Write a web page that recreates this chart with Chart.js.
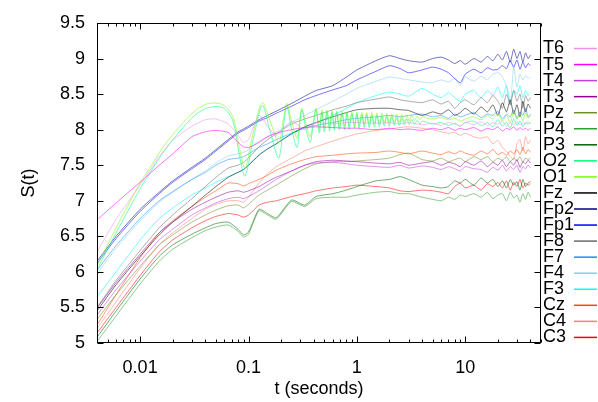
<!DOCTYPE html>
<html>
<head>
<meta charset="utf-8">
<script src="https://cdn.jsdelivr.net/npm/chart.js@4.4.1/dist/chart.umd.min.js"></script>
<style>
  html, body { margin: 0; padding: 0; background: #fff; }
  canvas { display: block; }
</style>
</head>
<body>
<canvas id="entropy-chart" width="598" height="402"></canvas>
<script>
const FONT = "'Liberation Sans', Arial, Helvetica, sans-serif";

// time grid (seconds) shared by most channels
const tBase = [0.004, 0.006, 0.01, 0.015, 0.02, 0.03, 0.04, 0.05, 0.065, 0.08, 0.09, 0.1, 0.125, 0.15, 0.18, 0.25, 0.33, 0.42, 0.6, 0.8,
    1, 1.5, 2, 2.5, 3, 4, 5, 6, 7, 8, 9, 10, 12, 14, 16, 18, 20, 22, 24, 26, 28, 30, 32, 34, 36, 38, 40];

// O1/O2 ring between 0.1 s and 4 s, so they get a finer grid
const tOsc = [0.004, 0.006, 0.008, 0.01, 0.013, 0.016, 0.023, 0.033, 0.043, 0.058, 0.072, 0.082, 0.093, 0.11, 0.134, 0.16, 0.19, 0.21, 0.226, 0.25,
    0.28, 0.295, 0.31, 0.34, 0.37, 0.395, 0.42,
    0.45, 0.475, 0.5, 0.53, 0.56, 0.59, 0.62, 0.65, 0.69, 0.73, 0.77, 0.81, 0.85, 0.9, 0.95, 1.0, 1.05, 1.11, 1.17, 1.23,
    1.3, 1.37, 1.45, 1.53, 1.61, 1.7, 1.79, 1.89, 1.99, 2.1, 2.21, 2.33, 2.46, 2.6, 2.74, 2.89, 3.05, 3.2, 3.4, 3.6, 3.8, 4.0,
    4.5, 5, 6, 7, 8, 9, 10, 12, 14, 16, 18, 20, 22, 24, 26, 28, 30, 32, 34, 36, 38, 40];

const T6  = [6.28, 6.74, 7.22, 7.62, 7.85, 8.05, 8.14, 8.15, 8.08, 7.92, 7.82, 7.86, 8.2, 8.05, 7.92, 8.12, 8.0, 8.1, 8.08, 8.1, 8.1, 8.09, 8.1, 8.08, 8.1, 8.07, 8.09, 8.06, 8.1, 8.08, 8.05, 8.1, 8.07, 8.11, 8.06, 8.1, 8.08, 8.12, 8.05, 8.1, 8.07, 8.11, 8.06, 8.1, 8.08, 8.12, 8.08];
const T5  = [6.73, 6.97, 7.26, 7.5, 7.66, 7.9, 7.97, 7.99, 7.96, 7.82, 7.76, 7.75, 7.82, 7.9, 7.95, 8.0, 8.03, 8.04, 8.03, 8.02, 8.02, 8.0, 8.02, 8.0, 8.01, 7.99, 8.02, 8.0, 8.03, 7.99, 8.02, 8.0, 8.03, 7.98, 8.02, 8.0, 8.04, 7.98, 8.02, 8.0, 8.04, 7.99, 8.03, 8.0, 8.02, 7.99, 8.02];
const T4  = [5.39, 5.75, 6.15, 6.45, 6.6, 6.8, 6.9, 6.97, 7.03, 7.05, 7.03, 7.06, 7.14, 7.22, 7.3, 7.42, 7.5, 7.53, 7.54, 7.52, 7.5, 7.48, 7.47, 7.5, 7.46, 7.49, 7.47, 7.44, 7.48, 7.45, 7.42, 7.48, 7.45, 7.44, 7.4, 7.47, 7.43, 7.5, 7.42, 7.48, 7.44, 7.5, 7.4, 7.48, 7.45, 7.5, 7.46];
const T3  = [5.49, 5.85, 6.25, 6.55, 6.7, 6.88, 6.98, 7.05, 7.12, 7.14, 7.12, 7.14, 7.2, 7.27, 7.33, 7.42, 7.5, 7.55, 7.57, 7.56, 7.55, 7.53, 7.52, 7.54, 7.5, 7.53, 7.55, 7.5, 7.54, 7.52, 7.48, 7.55, 7.5, 7.56, 7.48, 7.54, 7.5, 7.57, 7.48, 7.55, 7.5, 7.58, 7.47, 7.55, 7.52, 7.57, 7.53];
const Pz  = [5.33, 5.68, 6.08, 6.38, 6.52, 6.7, 6.8, 6.87, 6.93, 6.94, 6.9, 6.95, 7.08, 7.15, 7.22, 7.35, 7.45, 7.52, 7.55, 7.55, 7.56, 7.58, 7.6, 7.65, 7.67, 7.58, 7.56, 7.6, 7.55, 7.58, 7.6, 7.55, 7.62, 7.58, 7.62, 7.55, 7.6, 7.57, 7.62, 7.55, 7.6, 7.56, 7.62, 7.54, 7.6, 7.58, 7.6];
const P4  = [5.02, 5.38, 5.83, 6.15, 6.32, 6.48, 6.58, 6.63, 6.66, 6.57, 6.49, 6.53, 6.86, 6.8, 6.74, 6.99, 6.92, 7.03, 7.05, 7.05, 7.08, 7.12, 7.13, 7.1, 7.1, 7.05, 7.02, 7.0, 7.05, 7.02, 7.08, 7.06, 7.1, 7.05, 7.12, 7.03, 7.08, 7.1, 7.0, 7.12, 7.04, 7.08, 6.98, 7.1, 7.02, 7.12, 7.05];
const P3  = [5.08, 5.45, 5.9, 6.22, 6.38, 6.53, 6.62, 6.68, 6.7, 6.6, 6.52, 6.56, 6.88, 6.82, 6.76, 7.01, 6.94, 7.06, 7.1, 7.15, 7.2, 7.28, 7.3, 7.34, 7.3, 7.22, 7.2, 7.18, 7.2, 7.28, 7.25, 7.3, 7.22, 7.32, 7.25, 7.3, 7.2, 7.28, 7.18, 7.3, 7.22, 7.27, 7.15, 7.3, 7.2, 7.25, 7.27];
const O2  = [6.03, 6.55, 6.9, 7.17, 7.45, 7.66, 7.97, 8.22, 8.31, 8.31, 8.12, 7.65, 7.35, 7.85, 8.34, 7.95, 7.6, 8.05, 8.33, 8.0,
    7.75, 8.02, 8.28, 8.0, 7.82, 8.05, 8.28,
    7.95, 8.25, 7.97, 8.25, 7.98, 8.24, 7.99, 8.24, 8.0, 8.23, 8.0, 8.23, 8.01, 8.22, 8.02, 8.22, 8.02, 8.21, 8.03, 8.21,
    8.03, 8.2, 8.04, 8.2, 8.04, 8.19, 8.05, 8.19, 8.05, 8.18, 8.06, 8.17, 8.06, 8.16, 8.07, 8.15, 8.07, 8.14, 8.08, 8.13, 8.08, 8.12,
    8.1, 8.08, 8.1, 8.06, 8.09, 8.05, 8.1, 8.12, 8.06, 8.1, 8.04, 8.14, 8.05, 8.1, 8.02, 8.15, 8.06, 8.12, 8.04, 8.1, 8.08, 8.1];
const O1  = [6.08, 6.62, 6.98, 7.25, 7.52, 7.74, 8.04, 8.28, 8.37, 8.35, 8.18, 7.76, 7.46, 7.95, 8.38, 8.1, 7.82, 8.15, 8.37, 8.12,
    7.88, 8.1, 8.3, 8.08, 7.9, 8.1, 8.3,
    8.0, 8.28, 8.02, 8.27, 8.03, 8.27, 8.04, 8.26, 8.04, 8.26, 8.05, 8.25, 8.05, 8.25, 8.06, 8.25, 8.06, 8.24, 8.07, 8.24,
    8.07, 8.24, 8.08, 8.23, 8.08, 8.23, 8.09, 8.23, 8.09, 8.22, 8.1, 8.22, 8.1, 8.21, 8.11, 8.2, 8.12, 8.2, 8.13, 8.19, 8.14, 8.18,
    8.16, 8.15, 8.17, 8.14, 8.16, 8.12, 8.15, 8.18, 8.14, 8.2, 8.15, 8.22, 8.12, 8.2, 8.1, 8.25, 8.15, 8.22, 8.12, 8.24, 8.16, 8.2];
const Fz  = [5.45, 5.82, 6.22, 6.52, 6.7, 6.92, 7.08, 7.2, 7.33, 7.4, 7.44, 7.5, 7.64, 7.73, 7.8, 7.94, 8.04, 8.1, 8.18, 8.24, 8.28, 8.3, 8.3, 8.28, 8.27, 8.2, 8.25, 8.22, 8.28, 8.2, 8.24, 8.3, 8.22, 8.32, 8.25, 8.35, 8.2, 8.38, 8.25, 8.42, 8.22, 8.35, 8.18, 8.4, 8.25, 8.36, 8.3];
const Fp2 = [6.15, 6.5, 6.88, 7.12, 7.28, 7.47, 7.6, 7.72, 7.86, 7.97, 8.01, 8.05, 8.14, 8.2, 8.26, 8.37, 8.47, 8.55, 8.62, 8.74, 8.84, 8.97, 9.04, 9.0, 8.97, 8.95, 9.0, 9.02, 8.98, 8.93, 8.97, 8.92, 9.0, 8.95, 9.03, 8.97, 9.06, 8.98, 9.1, 8.95, 9.13, 9.0, 9.1, 8.95, 9.08, 9.0, 9.05];
const Fp1 = [6.12, 6.47, 6.85, 7.1, 7.26, 7.45, 7.58, 7.7, 7.84, 7.95, 7.99, 8.03, 8.12, 8.17, 8.23, 8.33, 8.42, 8.48, 8.56, 8.62, 8.7, 8.82, 8.9, 8.86, 8.8, 8.84, 8.88, 8.85, 8.8, 8.72, 8.66, 8.78, 8.85, 8.8, 8.87, 8.84, 8.85, 8.9, 8.86, 8.97, 8.88, 8.98, 8.85, 8.95, 8.87, 8.93, 8.9];
const F8  = [5.5, 5.88, 6.3, 6.62, 6.8, 7.03, 7.2, 7.33, 7.46, 7.5, 7.54, 7.6, 7.76, 7.86, 7.94, 8.08, 8.15, 8.2, 8.28, 8.33, 8.38, 8.43, 8.46, 8.42, 8.4, 8.38, 8.42, 8.36, 8.4, 8.3, 8.38, 8.42, 8.35, 8.45, 8.38, 8.48, 8.4, 8.3, 8.5, 8.35, 8.55, 8.4, 8.5, 8.3, 8.48, 8.4, 8.45];
const F7  = [6.02, 6.37, 6.75, 7.0, 7.13, 7.3, 7.4, 7.5, 7.58, 7.6, 7.62, 7.66, 7.75, 7.8, 7.86, 7.95, 8.02, 8.06, 8.1, 8.14, 8.16, 8.18, 8.2, 8.18, 8.2, 8.22, 8.18, 8.2, 8.16, 8.22, 8.18, 8.2, 8.24, 8.17, 8.22, 8.2, 8.26, 8.15, 8.22, 8.18, 8.28, 8.16, 8.25, 8.2, 8.3, 8.18, 8.22];
const F4  = [5.97, 6.33, 6.72, 6.98, 7.12, 7.3, 7.42, 7.53, 7.63, 7.66, 7.68, 7.72, 7.84, 7.9, 7.97, 8.1, 8.2, 8.28, 8.4, 8.5, 8.58, 8.68, 8.74, 8.72, 8.7, 8.67, 8.66, 8.7, 8.67, 8.72, 8.62, 8.74, 8.68, 8.75, 8.7, 8.78, 8.8, 8.75, 8.6, 8.35, 8.88, 8.6, 8.78, 8.7, 8.76, 8.72, 8.74];
const F3  = [5.65, 6.0, 6.45, 6.75, 6.9, 7.08, 7.18, 7.26, 7.34, 7.4, 7.44, 7.5, 7.65, 7.73, 7.8, 7.95, 8.03, 8.1, 8.2, 8.3, 8.38, 8.48, 8.53, 8.5, 8.47, 8.58, 8.5, 8.45, 8.52, 8.45, 8.4, 8.5, 8.55, 8.45, 8.55, 8.48, 8.6, 8.45, 8.62, 8.4, 8.55, 8.5, 8.62, 8.45, 8.55, 8.48, 8.52];
const Cz  = [5.25, 5.68, 6.2, 6.55, 6.72, 6.92, 7.05, 7.14, 7.25, 7.24, 7.21, 7.24, 7.3, 7.36, 7.43, 7.52, 7.58, 7.62, 7.64, 7.66, 7.67, 7.68, 7.7, 7.68, 7.66, 7.7, 7.67, 7.65, 7.69, 7.66, 7.7, 7.67, 7.64, 7.7, 7.66, 7.72, 7.65, 7.68, 7.64, 7.7, 7.66, 7.72, 7.65, 7.75, 7.66, 7.72, 7.68];
const C4  = [5.2, 5.58, 6.05, 6.38, 6.55, 6.75, 6.88, 6.95, 7.0, 7.0, 6.98, 7.05, 7.25, 7.38, 7.48, 7.6, 7.7, 7.76, 7.84, 7.9, 7.94, 7.99, 8.01, 8.03, 8.04, 8.02, 8.0, 7.97, 7.95, 7.96, 7.92, 7.95, 7.9, 7.88, 7.9, 7.8, 7.85, 7.75, 7.7, 7.62, 7.58, 7.8, 7.86, 7.7, 7.9, 7.8, 7.86];
const C3  = [5.14, 5.5, 5.95, 6.28, 6.45, 6.62, 6.72, 6.78, 6.82, 6.8, 6.77, 6.8, 6.94, 6.98, 7.0, 7.06, 7.1, 7.14, 7.18, 7.2, 7.22, 7.2, 7.18, 7.14, 7.13, 7.15, 7.14, 7.12, 7.1, 7.2, 7.25, 7.18, 7.22, 7.15, 7.24, 7.2, 7.26, 7.18, 7.28, 7.15, 7.26, 7.2, 7.3, 7.18, 7.25, 7.22, 7.24];

// key order, top to bottom
const channels = ['T6', 'T5', 'T4', 'T3', 'Pz', 'P4', 'P3', 'O2', 'O1', 'Fz', 'Fp2', 'Fp1', 'F8', 'F7', 'F4', 'F3', 'Cz', 'C4', 'C3'];
const series   = [T6, T5, T4, T3, Pz, P4, P3, O2, O1, Fz, Fp2, Fp1, F8, F7, F4, F3, Cz, C4, C3];
const colors   = ['#ee90ee', '#ff00ff', '#c040e0', '#990099', '#6b8e23', '#2ca02c', '#006400', '#00ff7f', '#7cfc00', '#000000',
                  '#00008b', '#0000ff', '#696969', '#1e90ff', '#87ceeb', '#00ffff', '#ff4500', '#fa8072', '#ff0000'];

const xMajor = [0.01, 0.1, 1, 10];
const xLabels = ['0.01', '0.1', '1', '10'];
const xMinor = [];
[0.001, 0.01, 0.1, 1, 10].forEach(d => {
    for (let m = 2; m <= 9; m++) {
        const v = m * d;
        if (v >= 0.004 && v <= 50) xMinor.push(v);
    }
});

function fade(hex, a) {
    const n = parseInt(hex.slice(1), 16);
    return `rgba(${n >> 16},${(n >> 8) & 255},${n & 255},${a})`;
}

/* frame with inward ticks on all four sides, plus the key on the right */
const frameAndKey = {
    id: 'frameAndKey',
    afterDraw(chart) {
        const { ctx, chartArea: a, scales: { x, y } } = chart;
        const L = Math.round(a.left) + 0.5, R = Math.round(a.right) - 0.5;
        const T = Math.round(a.top) + 0.5, B = Math.round(a.bottom) - 0.5;
        ctx.save();
        ctx.strokeStyle = '#000';
        ctx.lineWidth = 1;
        ctx.strokeRect(L, T, R - L, B - T);
        ctx.beginPath();
        y.ticks.forEach(t => {
            const py = Math.round(y.getPixelForValue(t.value)) + 0.5;
            ctx.moveTo(L, py); ctx.lineTo(L + 6, py);
            ctx.moveTo(R, py); ctx.lineTo(R - 6, py);
        });
        const tick = (v, len) => {
            const px = Math.round(x.getPixelForValue(v)) + 0.5;
            ctx.moveTo(px, B); ctx.lineTo(px, B - len);
            ctx.moveTo(px, T); ctx.lineTo(px, T + len);
        };
        xMajor.forEach(v => tick(v, 6));
        xMinor.forEach(v => tick(v, 3));
        ctx.stroke();

        ctx.font = '18px ' + FONT;
        ctx.textBaseline = 'middle';
        ctx.textAlign = 'left';
        channels.forEach((name, i) => {
            const ky = a.top + 25.5 + i * 16.05;
            ctx.fillStyle = '#000';
            ctx.fillText(name, a.right + 2, ky);
            ctx.strokeStyle = colors[i];
            ctx.lineWidth = 1.5;
            ctx.beginPath();
            ctx.moveTo(574, ky);
            ctx.lineTo(597, ky);
            ctx.stroke();
        });
        ctx.restore();
    }
};

Chart.defaults.font.family = FONT;
Chart.defaults.font.size = 18;
Chart.defaults.color = '#000';

const datasets = channels.map((name, i) => {
    const ts = (name === 'O1' || name === 'O2') ? tOsc : tBase;
    return {
        label: name,
        data: series[i].map((v, j) => ({ x: ts[j], y: v })),
        borderColor: fade(colors[i], 0.55),
        borderWidth: 1,
        pointRadius: 0,
        showLine: true,
        tension: (name === 'O1' || name === 'O2') ? 0.3 : 0.2
    };
});

new Chart(document.getElementById('entropy-chart'), {
    type: 'scatter',
    data: { datasets },
    options: {
        responsive: false,
        animation: false,
        events: [],
        layout: { padding: { left: 0, right: 57, top: 23, bottom: 0 } },
        scales: {
            x: {
                type: 'logarithmic',
                min: 0.004,
                max: 50,
                grid: { display: false, drawTicks: false },
                border: { display: false },
                afterBuildTicks: s => { s.ticks = xMajor.map(v => ({ value: v })); },
                afterFit: s => { s.height = 59; },
                ticks: {
                    autoSkip: false,
                    maxRotation: 0,
                    padding: 14,
                    callback: (v, i) => xLabels[i]
                },
                title: { display: true, text: 't (seconds)', padding: { top: 0, bottom: 2 } }
            },
            y: {
                min: 5,
                max: 9.5,
                grid: { display: false, drawTicks: false },
                border: { display: false },
                afterFit: s => { s.width = 97; },
                ticks: { stepSize: 0.5, padding: 12, callback: v => String(v) },
                title: { display: true, text: 'S(t)', padding: { top: 18, bottom: 0 } }
            }
        },
        plugins: {
            legend: { display: false },
            tooltip: { enabled: false }
        }
    },
    plugins: [frameAndKey]
});
</script>
</body>
</html>
